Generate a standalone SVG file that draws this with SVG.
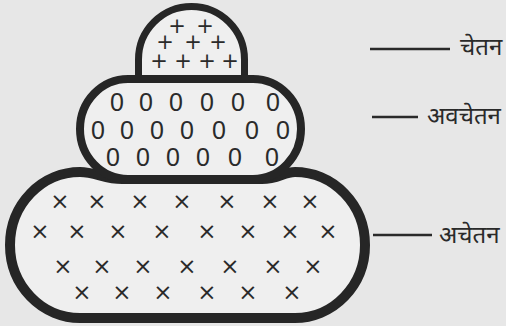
<svg xmlns="http://www.w3.org/2000/svg" width="506" height="326" viewBox="0 0 506 326">
<style>
.shape{fill:#efefef;stroke:#262626;}
.sym{font-family:"Liberation Sans",Arial,sans-serif;fill:#2a2a2a;text-anchor:middle;}
.plus{font-family:"DejaVu Sans",sans-serif;font-size:21px;}
.zero{font-size:25px;}
.cross{font-family:"DejaVu Sans",sans-serif;font-size:23px;}
.lbl{font-family:"Noto Sans","DejaVu Sans",sans-serif;font-size:24px;fill:#2a2a2a;}
.lead{stroke:#2a2a2a;stroke-width:2.5;}
</style>
<rect width="506" height="326" fill="#e7e7e7"/>
<g id="unconscious">
<path class="shape" stroke-width="10" d="M80 172 C95 172 105 179 122 179 H262 C278 179 284 172 295 172 A70 73 0 0 1 365 245 A70 73 0 0 1 295 318 H80 A70 73 0 0 1 10 245 A70 73 0 0 1 80 172 Z"/>
<text class="sym cross"><tspan x="60" y="209">×</tspan><tspan x="97" y="209">×</tspan><tspan x="140" y="209">×</tspan><tspan x="182" y="209">×</tspan><tspan x="227" y="209">×</tspan><tspan x="270" y="209">×</tspan><tspan x="310" y="209">×</tspan><tspan x="40" y="239">×</tspan><tspan x="77" y="239">×</tspan><tspan x="118" y="239">×</tspan><tspan x="162" y="239">×</tspan><tspan x="207" y="239">×</tspan><tspan x="248" y="239">×</tspan><tspan x="290" y="239">×</tspan><tspan x="328" y="239">×</tspan><tspan x="63" y="274">×</tspan><tspan x="102" y="274">×</tspan><tspan x="143" y="274">×</tspan><tspan x="187" y="274">×</tspan><tspan x="230" y="274">×</tspan><tspan x="273" y="274">×</tspan><tspan x="313" y="274">×</tspan><tspan x="82" y="300">×</tspan><tspan x="122" y="300">×</tspan><tspan x="163" y="300">×</tspan><tspan x="207" y="300">×</tspan><tspan x="248" y="300">×</tspan><tspan x="292" y="300">×</tspan></text>
</g>
<g id="conscious">
<path class="shape" d="M138.5 86 V59.5 A53 53 0 0 1 244.5 59.5 V86" stroke-width="7"/>
<text class="sym plus"><tspan x="177" y="33">+</tspan><tspan x="205" y="33">+</tspan><tspan x="165" y="49">+</tspan><tspan x="193" y="49">+</tspan><tspan x="218" y="49">+</tspan><tspan x="159" y="68">+</tspan><tspan x="183" y="68">+</tspan><tspan x="207" y="68">+</tspan><tspan x="230" y="68">+</tspan></text>
</g>
<g id="preconscious">
<rect class="shape" x="80" y="79" width="221" height="100" rx="48" ry="50" stroke-width="8"/>
<text class="sym zero"><tspan x="117" y="111">0</tspan><tspan x="146" y="111">0</tspan><tspan x="176" y="111">0</tspan><tspan x="207" y="111">0</tspan><tspan x="238" y="111">0</tspan><tspan x="273" y="111">0</tspan><tspan x="98" y="139">0</tspan><tspan x="127" y="139">0</tspan><tspan x="157" y="139">0</tspan><tspan x="187" y="139">0</tspan><tspan x="219" y="139">0</tspan><tspan x="252" y="139">0</tspan><tspan x="283" y="139">0</tspan><tspan x="113" y="166">0</tspan><tspan x="143" y="166">0</tspan><tspan x="173" y="166">0</tspan><tspan x="203" y="166">0</tspan><tspan x="235" y="166">0</tspan><tspan x="272" y="166">0</tspan></text>
</g>
<g id="connectors">
<line class="lead" x1="370" y1="49" x2="450" y2="49"/>
<line class="lead" x1="372" y1="117" x2="418" y2="117"/>
<line class="lead" x1="373" y1="235" x2="432" y2="235"/>
</g>
<g id="labels">
<text class="lbl" x="460" y="55">चेतन</text>
<text class="lbl" x="427" y="124">अवचेतन</text>
<text class="lbl" x="439" y="243">अचेतन</text>
</g>
</svg>
